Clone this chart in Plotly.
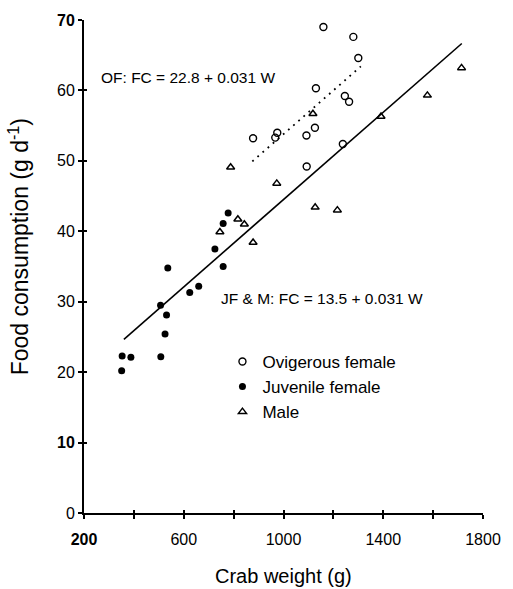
import plotly.graph_objects as go

# ---- data ----
of_w = [1160, 1280, 1300, 1130, 1246, 1263, 975, 967, 878, 1092, 1126, 1093, 1238]
of_fc = [69.0, 67.6, 64.6, 60.3, 59.2, 58.4, 54.0, 53.3, 53.2, 53.6, 54.7, 49.2, 52.4]

jf_w = [353, 388, 351, 508, 525, 531, 507, 536, 624, 660, 725, 758, 758, 778]
jf_fc = [22.3, 22.1, 20.2, 22.2, 25.4, 28.1, 29.5, 34.8, 31.3, 32.2, 37.5, 35.0, 41.1, 42.6]

m_w = [788, 745, 817, 843, 878, 973, 1118, 1127, 1216, 1391, 1577, 1714]
m_fc = [49.1, 39.9, 41.7, 41.0, 38.4, 46.8, 56.7, 43.4, 43.0, 56.3, 59.3, 63.2]

of_line_w = [875, 1310]
of_icpt, of_slope = 22.8, 0.031
jfm_line_w = [360, 1715]
jfm_icpt, jfm_slope = 13.5, 0.031

x_tickvals = [200, 600, 1000, 1400, 1800]
x_ticktext = ["<b>200</b>", "600", "1000", "1400", "1800"]
x_minor_vals = [400, 800, 1200, 1600]
x_all_ticks = [200, 400, 600, 800, 1000, 1200, 1400, 1600, 1800]
y_tickvals = [0, 10, 20, 30, 40, 50, 60, 70]
y_ticktext = ["0", "<b>10</b>", "20", "30", "40", "50", "60", "<b>70</b>"]

FONT = "Liberation Sans, Arial, sans-serif"

fig = go.Figure()

fig.add_trace(go.Scatter(
    x=jfm_line_w, y=[jfm_icpt + jfm_slope * w for w in jfm_line_w],
    mode="lines", line=dict(color="black", width=1.6), showlegend=False, hoverinfo="skip"))
fig.add_trace(go.Scatter(
    x=of_line_w, y=[of_icpt + of_slope * w for w in of_line_w],
    mode="lines", line=dict(color="black", width=1.8, dash="1.8px,5px"), showlegend=False, hoverinfo="skip"))

fig.add_trace(go.Scatter(
    x=of_w, y=of_fc, mode="markers", name="Ovigerous female",
    marker=dict(symbol="circle-open", size=7, color="black", line=dict(width=1.4))))
fig.add_trace(go.Scatter(
    x=jf_w, y=jf_fc, mode="markers", name="Juvenile female",
    marker=dict(symbol="circle", size=7, color="black")))
fig.add_trace(go.Scatter(
    x=m_w, y=m_fc, mode="markers", name="Male",
    marker=dict(symbol="triangle-up-open", size=7, color="black", line=dict(width=1.5))))

# overlay axes to give ticks crossing the axis lines
fig.add_trace(go.Scatter(x=[], y=[], xaxis="x2", yaxis="y2", showlegend=False))

fig.add_annotation(text="OF: FC = 22.8 + 0.031 W", x=262, y=61.9, xref="x", yref="y",
                   xanchor="left", yanchor="middle", showarrow=False,
                   font=dict(family=FONT, size=15.5, color="black"))
fig.add_annotation(text="JF & M: FC = 13.5 + 0.031 W", x=743, y=30.4, xref="x", yref="y",
                   xanchor="left", yanchor="middle", showarrow=False,
                   font=dict(family=FONT, size=15.5, color="black"))
fig.add_annotation(text="Food consumption (g d<sup>-1</sup>)", x=0, y=0.539, xref="paper", yref="paper",
                   xanchor="center", yanchor="middle", xshift=-65, textangle=-90, showarrow=False,
                   font=dict(family=FONT, size=23, color="black"))
fig.add_annotation(text="Crab weight (g)", x=0.5, y=0, xref="paper", yref="paper",
                   xanchor="center", yanchor="middle", yshift=-63, showarrow=False,
                   font=dict(family=FONT, size=20, color="black"))

axis_common = dict(showgrid=False, zeroline=False, showline=True, linecolor="black",
                   tickcolor="black", tickwidth=1.5)

fig.update_layout(
    width=513, height=589, autosize=False,
    margin=dict(l=84, r=20, t=14, b=76),
    paper_bgcolor="white", plot_bgcolor="white",
    font=dict(family=FONT, color="black", size=16),
    xaxis=dict(range=[200, 1800], tickmode="array", tickvals=x_tickvals, ticktext=x_ticktext,
               ticks="outside", ticklen=4, linewidth=1.5, ticklabelstandoff=7,
               minor=dict(tickmode="array", tickvals=x_minor_vals, ticks="outside", ticklen=4,
                          tickwidth=1.5, tickcolor="black", showgrid=False),
               tickfont=dict(size=16), **axis_common),
    yaxis=dict(range=[0, 70], tickmode="array", tickvals=y_tickvals, ticktext=y_ticktext,
               ticks="outside", ticklen=4, linewidth=2, tickfont=dict(size=16), **axis_common),
    xaxis2=dict(range=[200, 1800], overlaying="x", tickmode="array", tickvals=x_all_ticks,
                ticks="inside", ticklen=3, showticklabels=False, showgrid=False, zeroline=False,
                showline=False, tickcolor="black", tickwidth=1.5),
    yaxis2=dict(range=[0, 70], overlaying="y", tickmode="array", tickvals=y_tickvals,
                ticks="inside", ticklen=3, showticklabels=False, showgrid=False, zeroline=False,
                showline=False, tickcolor="black", tickwidth=1.5),
    legend=dict(x=0.347, y=0.343, xanchor="left", yanchor="top", bgcolor="rgba(0,0,0,0)",
                font=dict(family=FONT, size=17, color="black"), itemwidth=30, tracegroupgap=0),
)

fig.write_html("out.html")
